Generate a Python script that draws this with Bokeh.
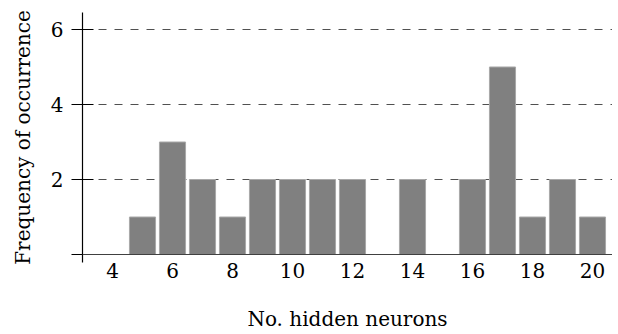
from bokeh.plotting import figure
from bokeh.models import Range1d, Span, FixedTicker, ColumnDataSource
from bokeh.embed import file_html
from bokeh.resources import INLINE

neurons = [4, 5, 6, 7, 8, 9, 10, 11, 12, 13, 14, 15, 16, 17, 18, 19, 20]
counts = [0, 1, 3, 2, 1, 2, 2, 2, 2, 0, 2, 0, 2, 5, 1, 2, 1]
x_ticks = [4, 6, 8, 10, 12, 14, 16, 18, 20]
y_ticks = [0, 2, 4, 6]

FONT = "DejaVu Serif"
FS = "20px"

p = figure(width=612, height=334, output_backend="svg", toolbar_location=None,
           x_range=Range1d(3.0, 20.667), y_range=Range1d(-0.213, 6.453),
           frame_width=530, frame_height=250,
           min_border_left=82, min_border_right=0, min_border_top=12, min_border_bottom=72)
p.outline_line_color = None
p.background_fill_color = "white"
p.xgrid.visible = False
p.ygrid.ticker = FixedTicker(ticks=[2, 4, 6])
p.ygrid.grid_line_color = "#505050"
p.ygrid.grid_line_dash = "8 8"
p.ygrid.grid_line_width = 1

xs = [n for n, c in zip(neurons, counts) if c > 0]
ys = [c for c in counts if c > 0]
src = ColumnDataSource(dict(x=xs, top=ys))
p.vbar(x="x", top="top", bottom=0, width=0.87, source=src,
       fill_color="#808080", line_color="#a8a8a8", line_width=1)

p.add_layout(Span(location=0, dimension="width", line_color="#404040", line_width=1.2))

xa = p.xaxis[0]
xa.ticker = FixedTicker(ticks=x_ticks)
xa.axis_line_color = None
xa.major_tick_line_color = None
xa.minor_tick_line_color = None
xa.major_tick_in = 0
xa.major_tick_out = 0
xa.major_label_standoff = 0
xa.major_label_text_font = FONT
xa.major_label_text_font_size = FS
xa.major_label_text_color = "black"
xa.axis_label = "No. hidden neurons"
xa.axis_label_text_font = FONT
xa.axis_label_text_font_size = FS
xa.axis_label_text_font_style = "normal"
xa.axis_label_text_color = "black"
xa.axis_label_standoff = 26

ya = p.yaxis[0]
ya.ticker = FixedTicker(ticks=y_ticks)
ya.major_label_overrides = {0: ""}
ya.axis_line_color = "black"
ya.axis_line_width = 1.2
ya.major_tick_line_color = "black"
ya.major_tick_line_width = 1.2
ya.major_tick_in = 11
ya.major_tick_out = 11
ya.minor_tick_line_color = None
ya.major_label_standoff = 8
ya.major_label_text_font = FONT
ya.major_label_text_font_size = FS
ya.major_label_text_color = "black"
ya.axis_label = "Frequency of occurrence"
ya.axis_label_text_font = FONT
ya.axis_label_text_font_size = FS
ya.axis_label_text_font_style = "normal"
ya.axis_label_text_color = "black"
ya.axis_label_standoff = 13

open("out.html", "w").write(file_html(p, INLINE))
